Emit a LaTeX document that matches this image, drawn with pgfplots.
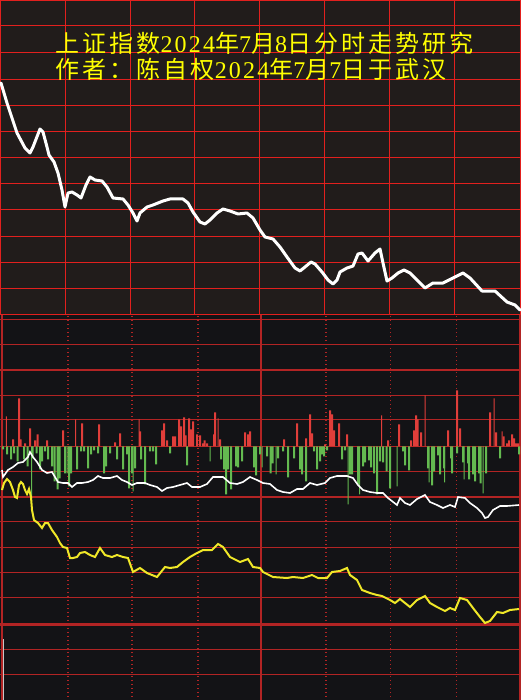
\documentclass[border=0pt]{standalone}
\usepackage{pgfplots}
\pgfplotsset{compat=1.18}
\usepackage{fontspec}
\newfontfamily\cjk[LetterSpace=13]{Noto Sans CJK SC}
\newfontfamily\dig[LetterSpace=9]{Liberation Serif}
\definecolor{topbg}{RGB}{33,28,27}
\definecolor{botbg}{RGB}{19,19,22}
\definecolor{gridA}{RGB}{226,32,30}
\definecolor{gridB}{RGB}{178,36,36}
\definecolor{barred}{RGB}{224,62,58}
\definecolor{bargreen}{RGB}{100,186,80}
\definecolor{lineyel}{RGB}{240,232,40}
\definecolor{titleyel}{RGB}{255,255,0}
\pgfplotsset{panel/.style={at={(0,0)},anchor=south west,width=521pt,height=700pt,
  scale only axis,hide axis,xmin=0,xmax=521}}
\begin{document}
\begin{tikzpicture}
\path[use as bounding box] (0,0) rectangle (521pt,700pt);
\begin{scope}[x=1pt,y=-1pt,yshift=700pt]
  \fill[topbg] (0,0) rectangle (521,315.5);
  \fill[botbg] (0,315.5) rectangle (521,700);
  % top panel grid
  \foreach \y in {0.5,26,52.3,79.3,105.3,131.3,157.3,184,210,236.3,262.3,289,315}
    \draw[gridA,line width=1pt] (0,\y) -- (521,\y);
  \foreach \x in {0.5,65.5,130.5,194.7,259.5,324.5,389.5,454.5,520.2}
    \draw[gridA,line width=1pt] (\x,0) -- (\x,315.5);
  % bottom panel grid
  \foreach \y in {319.3,344.3,395.3,420,471.3,522,547.3,573,598,649.3,674.3}
    \draw[gridB,line width=1pt] (0,\y) -- (521,\y);
  \foreach \y in {370,446.5,497}
    \draw[gridB,line width=1.8pt] (0,\y) -- (521,\y);
  \draw[gridB,line width=3pt] (0,624.3) -- (521,624.3);
  \foreach \x in {68,132,198,326,390.7,456.7}
    \draw[gridB,line width=1.3pt,dash pattern=on 1.3pt off 2.7pt] (\x,316) -- (\x,700);
  \draw[gridB,line width=1.5pt] (260.8,315.5) -- (260.8,700);
  \draw[gridB,line width=2pt] (2,315.5) -- (2,700);
  \draw[gridB,line width=1.8pt] (520.1,315.5) -- (520.1,700);
\end{scope}
% bars (value = pixels above zero line)
\begin{axis}[panel,ymin=-253.5,ymax=446.5]
\addplot[ybar,bar width=2,bar shift=0pt,fill=barred,draw=none] coordinates {
(13,7) (19,48) (20.5,7) (25,3) (30,18) (35,6) (37.5,12) (47,6) (63,16) (82,23)
(99,22) (115,4) (120,13) (140,15) (162,16) (164,23) (167,6) (173,10) (175,10)
(179,27) (181,20) (184,29) (185.5,11) (189,28) (191,17) (193,25) (197,12) (200,11)
(203,3) (204.5,6) (207,3) (214,12) (215,34) (220,7) (245,14) (248,12) (250,15)
(284,7) (297,23) (306,8) (310,32) (312,13) (325,2) (330,36) (332,32) (334,16)
(339,23) (347,12) (388,6) (399,22) (411,6) (414,16) (416,31) (417.5,27) (421,14)
(448,16) (457,56) (460,18) (490,34) (496,14) (503.5,10) (507,3) (509,6) (512,12)
(514,8) (516,3) (518,3)};
\addplot[ybar,bar width=1,bar shift=0pt,fill=barred,draw=none] coordinates {
(6.3,30) (75.5,27) (139,27) (218,28) (381.5,31) (425,51) (494,48) (502,15)};
\addplot[ybar,bar width=2,bar shift=0pt,fill=bargreen,draw=none] coordinates {
(3,-3) (7,-8) (11,-13) (14,-7) (17.5,-15) (24,-13) (27.5,-20) (32.5,-12) (36.5,-7)
(40,-23) (42,-15) (45,-5) (48,-13) (52,-20) (54.5,-35) (57.5,-43) (59.5,-32) (65,-27)
(69,-40) (71,-27) (77,-23) (81,-5) (84,-5) (88,-22) (91,-8) (94,-4) (98,-7) (104,-27)
(106,-20) (110,-7) (117,-13) (123,-23) (127,-8) (129,-42) (132,-27) (135,-22)
(141,-13) (145,-38) (150,-5) (153,-5) (156,-18) (170,-7) (187,-19) (221,-13)
(224,-23) (226,-48) (228,-23) (231,-43) (236,-20) (238,-21) (242,-15) (254,-21)
(256,-29) (260,-8) (267,-10) (270.5,-27) (272.5,-17) (278,-12) (283,-5) (288,-31)
(294,-12) (300,-23) (302,-28) (306,-35) (314,-5) (317,-23) (320,-15) (322,-8)
(324,-10) (327,-4) (342,-13) (345,-4) (350,-28) (352,-28) (358,-38) (363,-20)
(365,-16) (369,-14) (371,-21) (374,-27) (377,-48) (380,-15) (383,-16) (386.5,-25)
(390,-42) (403,-5) (405,-19) (409,-24) (428,-22) (432,-39) (434,-25) (438,-9)
(440,-28) (444,-22) (451,-12) (452,-27) (457,-7) (463,-16) (468,-17) (469,-33)
(473,-28) (475,-35) (479,-27) (480.5,-37) (486,-27) (500,-12) (519,-8)};
\addplot[ybar,bar width=1,bar shift=0pt,fill=bargreen,draw=none] coordinates {
(31.5,-52) (67,-27) (133,-45) (210,-15) (262,-21) (276,-28) (348,-58) (359.5,-48)
(397,-40) (429,-36) (444.5,-36) (464,-33) (483,-47)};
\end{axis}
% lines (pixel rows, y downward)
\begin{axis}[panel,ymin=0,ymax=700,y dir=reverse]
\addplot[white,line width=3pt,line join=round,line cap=round] coordinates {
(1,83) (7,103) (17,133) (25,148) (30,153) (33,147) (40,129) (43,132) (47,147)
(49,155) (54,162) (58,173) (62,190) (65,207) (68,193) (72,192) (77,195) (81,198)
(86,185) (90,177) (95,180) (102,181) (107,187) (113,198) (123,199) (128,205)
(133,213) (137,221) (140,213) (147,207) (153,205) (163,201) (170,199) (183,199)
(188,203) (193,212) (200,222) (205,224) (210,220) (217,213) (223,209) (230,211)
(238,214) (247,213) (253,218) (260,230) (265,237) (273,239) (280,247) (287,257)
(295,268) (300,271) (305,267) (311,262) (315,264) (322,272) (328,280) (333,284)
(337,280) (340,272) (347,268) (353,266) (358,254) (362,253) (368,261) (375,253)
(380,249) (383,263) (387,281) (392,278) (398,273) (404,270) (410,273) (417,280)
(425,288) (433,283) (443,283) (453,278) (463,273) (470,278) (482,291) (495,291)
(507,302) (515,305) (520,310)};
\addplot[white,line width=1.6pt] coordinates {
(2,470) (3,477) (8,470) (13,467) (18,463) (23,462) (28,457) (30,452) (33,457)
(37,462) (42,470) (47,473) (52,472) (55,477) (58,482) (63,483) (68,483) (72,487)
(77,483) (82,483) (88,482) (93,480) (98,476) (103,478) (110,478) (117,476)
(122,480) (127,482) (132,485) (137,483) (145,483) (150,485) (157,487) (162,491)
(167,488) (173,487) (180,485) (187,483) (192,487) (200,487) (207,484) (213,477)
(223,477) (230,483) (237,484) (243,482) (250,477) (257,480) (263,483) (270,484)
(277,490) (283,492) (290,493) (297,489) (303,489) (310,483) (317,485) (325,483)
(330,478) (337,476) (347,476) (353,478) (358,485) (363,490) (370,492) (377,493)
(383,493) (388,498) (397,505) (400,498) (405,503) (410,505) (417,499) (425,495)
(430,502) (437,505) (443,508) (450,505) (455,507) (458,497) (465,498) (470,503)
(477,508) (482,513) (485,518) (488,517) (493,510) (500,506) (507,506) (519,505)};
\addplot[lineyel,line width=2pt] coordinates {
(2,490) (4,483) (7,479) (10,482) (13,490) (15,497) (17,498) (19,485) (21,482)
(23,484) (25,490) (27,494) (29,489) (31,497) (32,510) (34,520) (38,523) (42,528)
(45,523) (48,523) (52,530) (57,537) (60,543) (63,547) (67,548) (70,558) (73,558)
(77,557) (80,553) (85,552) (90,555) (95,557) (100,548) (105,555) (112,557)
(117,555) (123,557) (128,558) (133,572) (140,568) (147,573) (157,577) (165,567)
(170,568) (177,567) (183,562) (190,557) (197,553) (203,550) (212,550) (218,544)
(223,547) (230,557) (240,562) (248,559) (253,567) (260,568) (263,572) (273,577)
(287,578) (293,577) (303,578) (312,575) (318,578) (327,578) (332,572) (340,571)
(347,568) (350,575) (357,580) (362,590) (370,593) (377,595) (382,596) (390,600)
(395,603) (400,599) (405,603) (410,607) (417,600) (425,596) (430,603) (437,607)
(445,611) (450,608) (455,610) (460,598) (467,600) (473,608) (480,617) (485,623)
(490,621) (497,612) (503,613) (510,610) (519,609)};
\addplot[white!78!black,line width=1pt] coordinates {(3.4,639) (3.4,700)};
\end{axis}
\begin{scope}[x=1pt,y=-1pt,yshift=700pt]
  \fontsize{24pt}{28pt}\selectfont
  \node[anchor=west,inner sep=0pt,text=titleyel] at (55,43.5)
    {\cjk 上证指数{\dig 2024}年{\dig 7}月{\dig 8}日分时走势研究};
  \node[anchor=west,inner sep=0pt,text=titleyel] at (55,69)
    {\cjk 作者：陈自权{\dig 2024}年{\dig 7}月{\dig 7}日于武汉};
\end{scope}
\end{tikzpicture}
\end{document}
